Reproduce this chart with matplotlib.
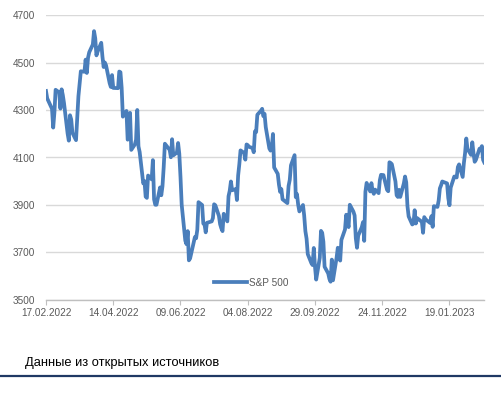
import numpy as np
import pandas as pd
import matplotlib
matplotlib.use("Agg")
import matplotlib.pyplot as plt
import matplotlib.dates as mdates
from matplotlib.lines import Line2D

# S&P 500, daily closes (17.02.2022 - 17.02.2023)
feb22 = [4380, 4349, 4305, 4226, 4289, 4385, 4374]
mar22 = [4306, 4387, 4363, 4329, 4201, 4171, 4278, 4260, 4204, 4173, 4262, 4358,
         4412, 4463, 4461, 4512, 4456, 4520, 4543, 4576, 4632, 4602, 4530]
apr22 = [4546, 4583, 4525, 4481, 4500, 4488, 4413, 4397, 4447, 4393, 4392, 4462,
         4459, 4394, 4272, 4296, 4175, 4184, 4288, 4132]
may22 = [4155, 4175, 4300, 4147, 4123, 3991, 4001, 3935, 3930, 4024, 4008, 4089,
         3924, 3901, 3901, 3974, 3941, 3979, 4058, 4158, 4132]
jun22 = [4101, 4177, 4109, 4121, 4161, 4116, 4018, 3901, 3750, 3735, 3790, 3667,
         3675, 3765, 3760, 3796, 3912, 3900, 3822, 3819, 3785]
jul22 = [3825, 3831, 3845, 3903, 3899, 3854, 3819, 3802, 3790, 3863, 3831, 3937,
         3960, 3999, 3962, 3967, 3921, 4024, 4072, 4130]
aug22 = [4119, 4091, 4155, 4152, 4145, 4140, 4122, 4210, 4207, 4280, 4297, 4305,
         4274, 4284, 4228, 4138, 4129, 4141, 4199, 4058, 4031, 3986, 3955]
sep22 = [3967, 3924, 3908, 3980, 4006, 4067, 4110, 3933, 3946, 3901, 3873, 3900,
         3856, 3790, 3758, 3693, 3655, 3647, 3719, 3640, 3586]
oct22 = [3678, 3791, 3783, 3745, 3640, 3612, 3589, 3577, 3670, 3583, 3678, 3720,
         3695, 3666, 3753, 3797, 3859, 3831, 3807, 3901, 3872]
nov22 = [3856, 3760, 3720, 3771, 3807, 3828, 3749, 3956, 3993, 3957, 3992, 3959,
         3947, 3965, 3950, 4004, 4027, 4026, 3964, 3958, 4080]
dec22 = [4077, 4072, 3999, 3941, 3934, 3964, 3934, 3991, 4020, 3995, 3896, 3852,
         3818, 3822, 3878, 3822, 3845, 3829, 3783, 3849, 3840]
jan23 = [3824, 3853, 3808, 3895, 3892, 3919, 3970, 3983, 3999, 3991, 3929, 3899,
         3973, 4020, 4017, 4016, 4060, 4071, 4018, 4077]
feb23 = [4119, 4180, 4136, 4111, 4164, 4118, 4082, 4090, 4137, 4136, 4148, 4090, 4079]

closes = (feb22 + mar22 + apr22 + may22 + jun22 + jul22 + aug22 + sep22 + oct22
          + nov22 + dec22 + jan23 + feb23)

holidays = ["2022-02-21", "2022-04-15", "2022-05-30", "2022-06-20", "2022-07-04",
            "2022-09-05", "2022-11-24", "2022-12-26", "2023-01-02", "2023-01-16"]
dates = pd.bdate_range("2022-02-17", "2023-02-17", freq="C", holidays=holidays)
assert len(dates) == len(closes)

tick_dates = pd.date_range("2022-02-17", periods=7, freq="56D")
y_ticks = [3500, 3700, 3900, 4100, 4300, 4500, 4700]

plt.rcParams["font.family"] = ["Liberation Sans", "DejaVu Sans"]

fig = plt.figure(figsize=(5.01, 3.98), dpi=100)
ax = fig.add_axes([46 / 501, 1 - 300 / 398, (484.3 - 46) / 501, (300 - 15) / 398])

ax.plot(dates, closes, color="#4A7EBB", lw=2.7, solid_joinstyle="round", label="S&P 500")

ax.set_xlim(pd.Timestamp("2022-02-17"), pd.Timestamp("2023-02-17"))
ax.set_ylim(3500, 4700)
ax.set_yticks(y_ticks)
ax.set_xticks(tick_dates)
ax.xaxis.set_major_formatter(mdates.DateFormatter("%d.%m.%Y"))

ax.grid(axis="y", color="#D9D9D9", lw=1.0)
ax.set_axisbelow(True)
for s in ["top", "right", "left"]:
    ax.spines[s].set_visible(False)
ax.spines["bottom"].set_color("#BFBFBF")
ax.spines["bottom"].set_linewidth(1.0)

ax.tick_params(axis="y", length=0, pad=8, labelsize=7.2, labelcolor="#595959")
ax.tick_params(axis="x", length=3.5, width=0.8, color="#BFBFBF", pad=2,
               labelsize=7.2, labelcolor="#595959")

ax.legend(loc="center", bbox_to_anchor=(251 / 501, 1 - 282.7 / 398),
          bbox_transform=fig.transFigure, frameon=False, fontsize=7.2,
          handlelength=3.3, handletextpad=0.2, borderpad=0, labelcolor="#595959")

fig.text(25 / 501, 1 - 363 / 398, "Данные из открытых источников", fontsize=9.3,
         color="black", va="center", ha="left")
fig.add_artist(Line2D([0, 1], [1 - 376 / 398] * 2, transform=fig.transFigure,
                      color="#1F3864", lw=1.6))

fig.savefig("out.png", dpi=100)
